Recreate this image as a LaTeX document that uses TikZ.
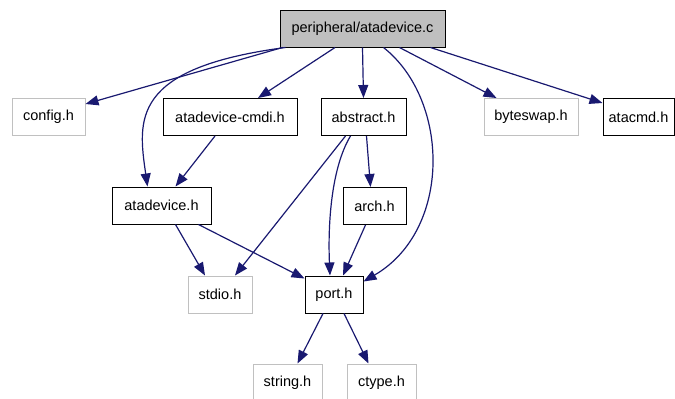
\documentclass[tikz,border=0pt]{standalone}
\usepackage{fontspec}
\setmainfont{Liberation Sans}
\usetikzlibrary{arrows.meta}
\definecolor{dxblue}{HTML}{191970}
\definecolor{dxgray}{HTML}{BFBFBF}
\definecolor{dxlight}{HTML}{C0C0C0}

\begin{document}
\begin{tikzpicture}[x=1pt, y=-1pt, font=\fontsize{14.5}{17}\selectfont,
    box/.style={draw=black, line width=1pt, fill=white, minimum height=37pt, inner sep=0pt},
    sysbox/.style={box, draw=dxlight},
    topbox/.style={box, fill=dxgray},
    dep/.style={dxblue, line width=1.2pt, -{Triangle[length=13pt, width=10pt]}}]
    \useasboundingbox (0,0) rectangle (675,399);
    % files
    \node[topbox, minimum width=165pt] (atac) at (362.5,28.5) {peripheral/atadevice.c};
    \node[sysbox, minimum width=73pt] (config) at (48.5,117) {config.h};
    \node[box, minimum width=134pt] (cmdi) at (230,117) {atadevice-cmdi.h};
    \node[box, minimum width=85pt] (abstract) at (363.5,117) {abstract.h};
    \node[sysbox, minimum width=94pt] (byteswap) at (531,117) {byteswap.h};
    \node[box, minimum width=71pt] (atacmd) at (638.5,117) {atacmd.h};
    \node[box, minimum width=99pt] (atadev) at (161.5,205.5) {atadevice.h};
    \node[box, minimum width=63pt] (arch) at (374.5,206) {arch.h};
    \node[sysbox, minimum width=64pt] (stdio) at (220,294.5) {stdio.h};
    \node[box, minimum width=58pt] (port) at (334,294.5) {port.h};
    \node[sysbox, minimum width=69pt] (string) at (287.5,382.5) {string.h};
    \node[sysbox, minimum width=69pt] (ctype) at (381.5,382.5) {ctype.h};
    % includes
    \draw[dep] ([xshift=3pt]atac.south west) -- ([yshift=13pt]config.east);
    \draw[dep] ([xshift=6pt]atac.south west) .. controls (130,68) and (138,120) .. ([xshift=-14pt]atadev.north);
    \draw[dep] ([xshift=-27.5pt]atac.south) -- ([xshift=28pt]cmdi.north);
    \draw[dep] (atac.south) -- (abstract.north);
    \draw[dep] ([xshift=21pt]atac.south) .. controls (450,100) and (452,230) .. ([yshift=-6pt]port.north east);
    \draw[dep] ([xshift=37pt]atac.south) -- ([xshift=13pt]byteswap.north west);
    \draw[dep] ([xshift=-15pt]atac.south east) -- ([yshift=14pt]atacmd.west);
    \draw[dep] ([xshift=-15pt]cmdi.south) -- ([xshift=14pt]atadev.north);
    \draw[dep] ([xshift=14pt]atadev.south) -- ([xshift=-15pt]stdio.north);
    \draw[dep] ([xshift=37pt]atadev.south) -- ([yshift=-3pt]port.north west);
    \draw[dep] ([xshift=-18pt]abstract.south) -- ([xshift=15pt]stdio.north);
    \draw[dep] ([xshift=-13pt]abstract.south) .. controls (330,170) and (328,230) .. ([xshift=-4pt]port.north);
    \draw[dep] ([xshift=3pt]abstract.south) -- ([xshift=-4pt]arch.north);
    \draw[dep] ([xshift=-9pt]arch.south) -- ([xshift=9pt]port.north);
    \draw[dep] ([xshift=-11pt]port.south) -- ([xshift=10pt]string.north);
    \draw[dep] ([xshift=10pt]port.south) -- ([xshift=-13pt]ctype.north);
\end{tikzpicture}
\end{document}
